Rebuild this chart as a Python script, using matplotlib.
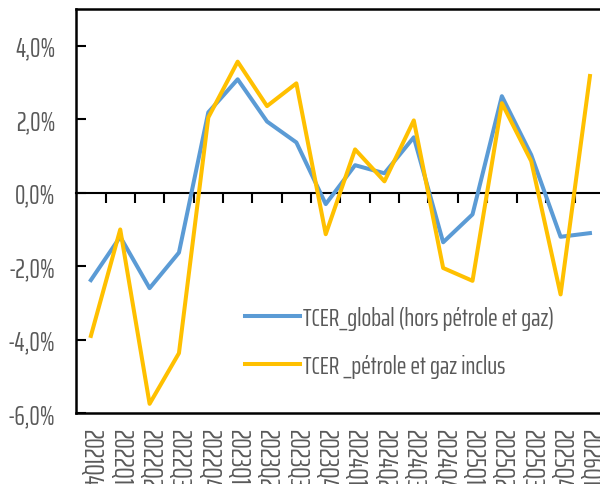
import numpy as np
import matplotlib
matplotlib.use('Agg')
import matplotlib.pyplot as plt
from matplotlib.ticker import FuncFormatter

plt.rcParams['font.family'] = ['Saira ExtraCondensed', 'Pathway Gothic One',
                               'Roboto Condensed', 'DejaVu Sans']

quarters = ['2021Q4', '2022Q1', '2022Q2', '2022Q3', '2022Q4',
            '2023Q1', '2023Q2', '2023Q3', '2023Q4',
            '2024Q1', '2024Q2', '2024Q3', '2024Q4',
            '2025Q1', '2025Q2', '2025Q3', '2025Q4', '2026Q1']

tcer_global = [-2.38, -1.2, -2.6, -1.63, 2.19, 3.09, 1.94, 1.37, -0.31,
               0.75, 0.53, 1.51, -1.35, -0.59, 2.63, 1.03, -1.2, -1.1]
tcer_petrole = [-3.9, -1.0, -5.75, -4.37, 2.05, 3.57, 2.36, 2.98, -1.13,
                1.18, 0.31, 1.97, -2.05, -2.4, 2.44, 0.86, -2.77, 3.18]

label_global = 'TCER_global (hors pétrole et gaz)'
label_petrole = 'TCER _pétrole et gaz inclus'

grey = '#595959'

fig = plt.figure(figsize=(6.0, 4.85), dpi=100)
ax = fig.add_axes([0.127, 0.1464, 0.8807, 0.8326])

x = np.arange(len(quarters))
ax.plot(x, tcer_global, color='#5B9BD5', linewidth=2.9, label=label_global)
ax.plot(x, tcer_petrole, color='#FFC000', linewidth=2.9, label=label_petrole)

ax.set_xlim(-0.5, len(quarters) - 0.5)
ax.set_ylim(-6, 5)
ax.set_yticks(np.arange(-6, 5, 2))
ax.yaxis.set_major_formatter(FuncFormatter(lambda v, p: ('%.1f%%' % v).replace('.', ',')))
ax.tick_params(axis='y', direction='in', length=7, width=1.5, pad=15,
               labelsize=19, labelcolor=grey)

ax.set_xticks(x)
ax.set_xticklabels(quarters, rotation=270, ha='center', va='top')
ax.tick_params(axis='x', length=0, pad=11, labelsize=19, labelcolor=grey)

for side in ['left', 'top', 'bottom']:
    ax.spines[side].set_linewidth(1.8)
ax.spines['right'].set_visible(False)

# zero line carrying the category separators
zero = ax.secondary_xaxis(6 / 11)
zero.set_alignment('bottom')
zero.set_xticks(np.arange(0.5, len(quarters) - 1, 1))
zero.set_xticklabels([])
zero.spines['bottom'].set_linewidth(1.5)
zero.tick_params(axis='x', direction='out', length=7, width=1.5)

ax.legend(loc='center left', bbox_to_anchor=(245 / 600, 1 - 343 / 485),
          bbox_transform=fig.transFigure, frameon=False, fontsize=18.5,
          handlelength=2.14, handletextpad=0.12, labelspacing=0.9,
          borderpad=0, borderaxespad=0, labelcolor=grey)

fig.savefig('out.png', dpi=100)
